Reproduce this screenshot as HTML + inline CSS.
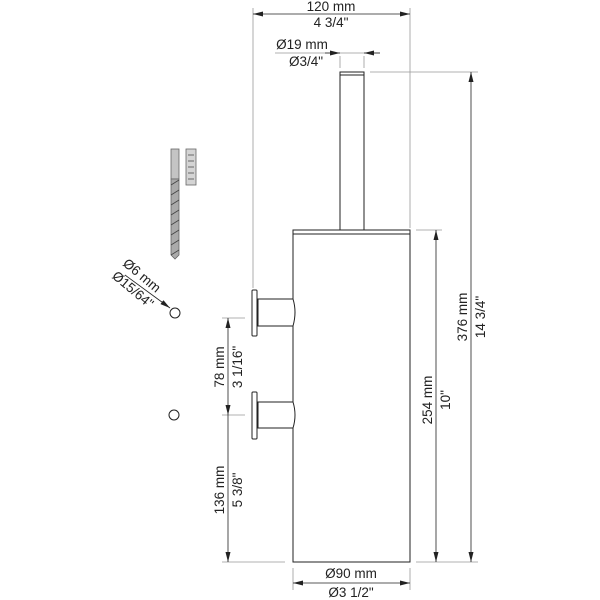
<!DOCTYPE html>
<html><head><style>body{margin:0;background:#fff}svg{display:block}text{font-family:"Liberation Sans",sans-serif;font-size:13.5px;fill:#222}</style></head><body>
<svg width="600" height="600" viewBox="0 0 600 600">
<defs><marker id="a" markerWidth="10" markerHeight="6" refX="10" refY="3" orient="auto-start-reverse" markerUnits="userSpaceOnUse"><path d="M0,0.5 L10,3 L0,5.5z" fill="#222"/></marker></defs>
<g stroke="#999" stroke-width="0.8" fill="none">
<line x1="253" y1="8" x2="253" y2="288"/><line x1="410" y1="8" x2="410" y2="228"/>
<line x1="340" y1="56" x2="340" y2="68"/><line x1="364" y1="56" x2="364" y2="68"/>
<line x1="370" y1="72" x2="478" y2="72"/>
<line x1="416" y1="230" x2="442" y2="230"/>
<line x1="416" y1="562" x2="478" y2="562"/>
<line x1="222" y1="562" x2="285" y2="562"/>
<line x1="222" y1="318" x2="245" y2="318"/><line x1="222" y1="415" x2="245" y2="415"/>
<line x1="293" y1="568" x2="293" y2="590"/><line x1="410" y1="568" x2="410" y2="590"/>
<line x1="275" y1="53" x2="380" y2="53"/>
</g>
<g stroke="#222" stroke-width="0.8" fill="none">
<line x1="253" y1="14" x2="410" y2="14" marker-start="url(#a)" marker-end="url(#a)"/>
<line x1="325" y1="53" x2="340" y2="53" marker-end="url(#a)"/>
<line x1="380" y1="53" x2="364" y2="53" marker-end="url(#a)"/>
<line x1="471" y1="72" x2="471" y2="562" marker-start="url(#a)" marker-end="url(#a)"/>
<line x1="436" y1="230" x2="436" y2="562" marker-start="url(#a)" marker-end="url(#a)"/>
<line x1="293" y1="583" x2="410" y2="583" marker-start="url(#a)" marker-end="url(#a)"/>
<line x1="228" y1="318" x2="228" y2="415" marker-start="url(#a)" marker-end="url(#a)"/>
<line x1="228" y1="415" x2="228" y2="562" marker-end="url(#a)"/>
<line x1="125" y1="275" x2="170" y2="308" marker-end="url(#a)"/>
</g>
<g stroke="#222" stroke-width="1" fill="#fff">
<rect x="340" y="72" width="24" height="158"/><line x1="340" y1="75" x2="364" y2="75"/>
<rect x="293" y="230" width="117" height="332"/><line x1="293" y1="234" x2="410" y2="234"/>
<path d="M258,299 L293,299 Q297,312 293,326 L258,326z"/>
<rect x="252" y="290" width="5" height="46" rx="1"/>
<path d="M258,402 L293,402 Q297,415 293,428 L258,428z"/>
<rect x="252" y="392" width="5" height="47" rx="1"/>
<circle cx="175" cy="313" r="5"/><circle cx="174" cy="415" r="5"/>
</g>
<g stroke="#666" stroke-width="0.8">
<rect x="171" y="149" width="8" height="30" fill="#c4c4c4"/>
<path d="M171,179 L179,179 L179,255 L175,259 L171,255z" fill="#aaa"/>
<path d="M171,185 L179,180 M171,195 L179,190 M171,205 L179,200 M171,215 L179,210 M171,225 L179,220 M171,235 L179,230 M171,245 L179,240 M171,255 L179,250" stroke="#444"/>
<rect x="186" y="149" width="10" height="36" fill="#d4d4d4"/>
<path d="M188,155h6M188,161h6M188,167h6M188,173h6M188,179h6" stroke="#444"/>
</g>
<text x="331" y="11" text-anchor="middle">120 mm</text>
<text x="331" y="27" text-anchor="middle">4 3/4"</text>
<text x="302" y="49" text-anchor="middle">Ø19 mm</text>
<text x="306" y="66" text-anchor="middle">Ø3/4"</text>
<text x="351" y="578" text-anchor="middle">Ø90 mm</text>
<text x="351" y="597" text-anchor="middle">Ø3 1/2"</text>
<text transform="translate(467,317) rotate(-90)" text-anchor="middle">376 mm</text>
<text transform="translate(485,317) rotate(-90)" text-anchor="middle">14 3/4"</text>
<text transform="translate(432,400) rotate(-90)" text-anchor="middle">254 mm</text>
<text transform="translate(450,400) rotate(-90)" text-anchor="middle">10"</text>
<text transform="translate(224,367) rotate(-90)" text-anchor="middle">78 mm</text>
<text transform="translate(242,367) rotate(-90)" text-anchor="middle">3 1/16"</text>
<text transform="translate(224,490) rotate(-90)" text-anchor="middle">136 mm</text>
<text transform="translate(242,490) rotate(-90)" text-anchor="middle">5 3/8"</text>
<text transform="translate(139,279) rotate(40)" text-anchor="middle">Ø6 mm</text>
<text transform="translate(130,293) rotate(40)" text-anchor="middle">Ø15/64"</text>
</svg>
</body></html>
